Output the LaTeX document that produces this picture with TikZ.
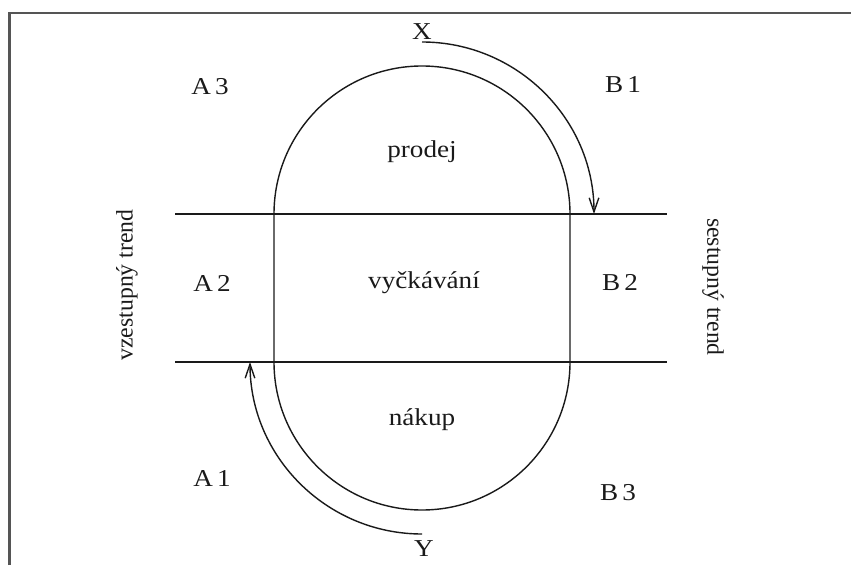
\documentclass[tikz,border=0pt]{standalone}
\usepackage{fontspec}
\setmainfont{Liberation Serif}
\newfontfamily\widefont[FakeStretch=1.12]{Liberation Serif}
\usepackage{xcolor}
\usepackage{tikz}
\usetikzlibrary{arrows.meta}
\definecolor{framegray}{HTML}{555555}
\definecolor{inkgray}{HTML}{1A1A1A}

\tikzset{
  lab/.style={font=\widefont\fontsize{13.8}{15}\selectfont, text=inkgray, inner sep=0pt},
  sidelab/.style={font=\fontsize{13.5}{15}\selectfont, text=inkgray, inner sep=0pt},
  ink/.style={draw=inkgray, line width=0.8pt},
  trendarrow/.style={ink, -{Straight Barb[length=8pt, width=5.5pt]}}
}

\begin{document}
\begin{tikzpicture}[x=0.02cm, y=0.02cm]
  \useasboundingbox (0,0) rectangle (851,565);

  %% Frame (top and left edges only)
  \draw[framegray, line width=1.6pt] (9.5,0) -- (9.5,552) -- (851,552);

  %% Zone borders
  \draw[ink] (175,351) -- (667,351);
  \draw[ink] (175,203) -- (667,203);

  %% Stadium
  \draw[ink] (274,203) -- (274,351) arc[start angle=180, end angle=0, radius=148]
    -- (570,203) arc[start angle=0, end angle=-180, radius=148] -- cycle;

  %% Zone labels
  \node[lab] (a3) at (210,478) {A\,3};
  \node[lab] (b1) at (623,480) {B\,1};
  \node[lab] (a2) at (212,282) {A\,2};
  \node[lab] (b2) at (620,282) {B\,2};
  \node[lab] (a1) at (212,87) {A\,1};
  \node[lab] (b3) at (618,72) {B\,3};
  \node[lab] (prodej) at (422,413) {prodej};
  \node[lab] (vyck) at (424,282) {vyčkávání};
  \node[lab] (nakup) at (422,145) {nákup};

  %% Trend labels
  \node[sidelab, rotate=90] (up) at (127,280) {vzestupný trend};
  \node[sidelab, rotate=-90] (down) at (713,278) {sestupný trend};

  %% Turning arrows
  \node[lab] (x) at (422,533) {X};
  \node[lab] (y) at (424,16) {Y};
  \coordinate (xs) at (422,523);
  \coordinate (ys) at (422,31);
  \draw[trendarrow] (xs) arc[start angle=90, end angle=0, radius=172];
  \draw[trendarrow] (ys) arc[start angle=270, end angle=180, radius=172];

\end{tikzpicture}
\end{document}
